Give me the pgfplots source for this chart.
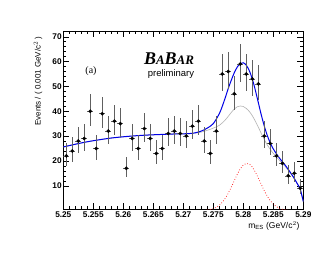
\documentclass[border=0pt]{standalone}
\usepackage{fontspec}
\setmainfont{Liberation Sans}
\newfontfamily\serif{Liberation Serif}
\usepackage{pgfplots}
\pgfplotsset{compat=1.18}
\usepackage{pgfplotstable}

\pgfplotstableread{
x y ex ep em
5.2505 22 0.0005 5.22 4.22
5.2515 24 0.0005 5.42 4.42
5.2525 28 0.0005 5.82 4.82
5.2535 29 0.0005 5.91 4.91
5.2545 40 0.0005 6.84 5.84
5.2555 25 0.0005 5.52 4.52
5.2565 39 0.0005 6.76 5.76
5.2575 32 0.0005 6.18 5.18
5.2585 36 0.0005 6.52 5.52
5.2595 35 0.0005 6.44 5.44
5.2605 17 0.0005 4.65 3.65
5.2615 29 0.0005 5.91 4.91
5.2625 25 0.0005 5.52 4.52
5.2635 33 0.0005 6.27 5.27
5.2645 29 0.0005 5.91 4.91
5.2655 23 0.0005 5.32 4.32
5.2665 25 0.0005 5.52 4.52
5.2675 31 0.0005 6.09 5.09
5.2685 32 0.0005 6.18 5.18
5.2695 31 0.0005 6.09 5.09
5.2705 30 0.0005 6.00 5.00
5.2715 34 0.0005 6.35 5.35
5.2725 36 0.0005 6.52 5.52
5.2735 28 0.0005 5.82 4.82
5.2745 23 0.0005 5.32 4.32
5.2755 32 0.0005 6.18 5.18
5.2765 55 0.0005 7.93 6.93
5.2775 56 0.0005 8.00 7.00
5.2785 47 0.0005 7.37 6.37
5.2795 59 0.0005 8.20 7.20
5.2805 55 0.0005 7.93 6.93
5.2815 53 0.0005 7.80 6.80
5.2825 51 0.0005 7.66 6.66
5.2835 30 0.0005 6.00 5.00
5.2845 27 0.0005 5.72 4.72
5.2855 22 0.0005 5.22 4.22
5.2865 19 0.0005 4.89 3.89
5.2875 14 0.0005 4.27 3.27
5.2885 15 0.0005 4.41 3.41
5.2895 9 0.0005 3.54 2.54
}\datatable

\pgfplotstableread{
x y
5.2500 25.6
5.2520 26.7
5.2540 27.7
5.2560 28.5
5.2580 29.2
5.2600 29.7
5.2620 30.1
5.2640 30.4
5.2660 30.6
5.2680 30.8
5.2700 30.9
5.2710 31.0
5.2720 31.3
5.2730 32.0
5.2740 33.2
5.2750 35.0
5.2760 39.0
5.2765 42.0
5.2770 45.5
5.2775 49.2
5.2780 52.5
5.2785 55.5
5.2790 57.8
5.2795 59.2
5.2800 59.5
5.2805 58.5
5.2810 56.3
5.2815 53.0
5.2820 48.5
5.2825 43.5
5.2830 38.5
5.2835 34.0
5.2840 30.2
5.2845 27.2
5.2850 24.8
5.2860 21.2
5.2870 18.2
5.2880 14.8
5.2885 12.9
5.2890 10.8
5.2895 8.5
5.2900 3.6
}\totaltable

\pgfplotstableread{
x y
5.2500 25.6
5.2520 26.7
5.2540 27.7
5.2560 28.5
5.2580 29.2
5.2600 29.7
5.2620 30.1
5.2640 30.4
5.2660 30.6
5.2680 30.8
5.2700 30.9
5.2710 31.0
5.2720 31.2
5.2730 31.6
5.2740 32.3
5.2750 33.2
5.2760 34.3
5.2770 36.5
5.2780 39.5
5.2785 40.9
5.2790 41.8
5.2795 42.1
5.2800 41.9
5.2805 41.1
5.2810 39.9
5.2815 38.2
5.2820 36.0
5.2825 33.6
5.2830 31.0
5.2835 28.6
5.2840 26.4
5.2850 23.0
5.2860 20.3
5.2870 17.7
5.2880 14.6
5.2885 12.8
5.2890 10.8
5.2895 8.5
5.2900 3.6
}\bkgtable

\pgfplotstableread{
x y
5.2740 0.21
5.2745 0.41
5.2750 0.74
5.2755 1.29
5.2760 2.14
5.2765 3.35
5.2770 4.98
5.2775 7.04
5.2780 9.45
5.2785 12.05
5.2790 14.6
5.2795 16.8
5.2800 18.3
5.2805 19.0
5.2810 18.7
5.2815 17.5
5.2820 15.5
5.2825 13.1
5.2830 10.5
5.2835 7.97
5.2840 5.76
5.2845 3.95
5.2850 2.57
5.2855 1.59
5.2860 0.93
5.2865 0.52
5.2870 0.28
5.2875 0.14
}\sigtable

\begin{document}
\begin{tikzpicture}
\useasboundingbox[fill=white] (0,0) rectangle (330bp,255bp);
\begin{axis}[
  at={(63.3bp,45.7bp)}, anchor=south west,
  width=240bp, height=178.3bp, scale only axis,
  xmin=5.25, xmax=5.29, ymin=0.5, ymax=72.3,
  xtick={5.25,5.255,5.26,5.265,5.27,5.275,5.28,5.285,5.29},
  xticklabels={5.25,5.255,5.26,5.265,5.27,5.275,5.28,5.285,5.29},
  ytick={10,20,30,40,50,60,70},
  yticklabels={10,20,30,40,50,60,70},
  minor x tick num=4, minor y tick num=4,
  tick align=inside,
  major tick length=6bp, minor tick length=3bp,
  tick style={black, line width=0.4pt},
  axis line style={black, line width=0.5pt},
  tick label style={font=\fontsize{8.3}{9}\selectfont\bfseries},
  xticklabel style={inner sep=1bp, yshift=-1bp},
  yticklabel style={inner sep=1.5bp},
  clip=true,
]
\addplot[gray!60, line width=0.6bp, smooth] table[x=x,y=y] {\bkgtable};
\addplot[red, line width=0.7bp, dotted, smooth] table[x=x,y=y] {\sigtable};
\addplot[blue!90!black, line width=1bp, smooth] table[x=x,y=y] {\totaltable};
\addplot[only marks, mark=*, mark size=1.6bp, black,
  error bars/.cd, x dir=both, x explicit, y dir=both, y explicit,
  error mark=none, error bar style={gray!75!black, line width=0.45pt}]
  table[x=x, y=y, x error=ex, y error plus=ep, y error minus=em] {\datatable};
\end{axis}
\node[rotate=90, anchor=east, font=\fontsize{8}{9}\selectfont] at (38bp,222bp) {Events / ( 0.001 GeV/c$^{2}$ )};
\node[anchor=east, font=\fontsize{8.5}{9}\selectfont] at (303bp,29bp) {m$_{\mathrm{ES}}$ (GeV/c$^{2}$)};
\node[anchor=base, font=\serif\bfseries\itshape] at (169bp,190bp) {\fontsize{18}{18}\selectfont B\fontsize{13}{13}\selectfont A\fontsize{18}{18}\selectfont B\fontsize{13}{13}\selectfont AR};
\node[anchor=base, font=\fontsize{9.5}{10}\selectfont] at (171bp,178bp) {preliminary};
\node[font=\serif\fontsize{10}{10}\selectfont] at (91bp,184bp) {(a)};
\end{tikzpicture}
\end{document}
